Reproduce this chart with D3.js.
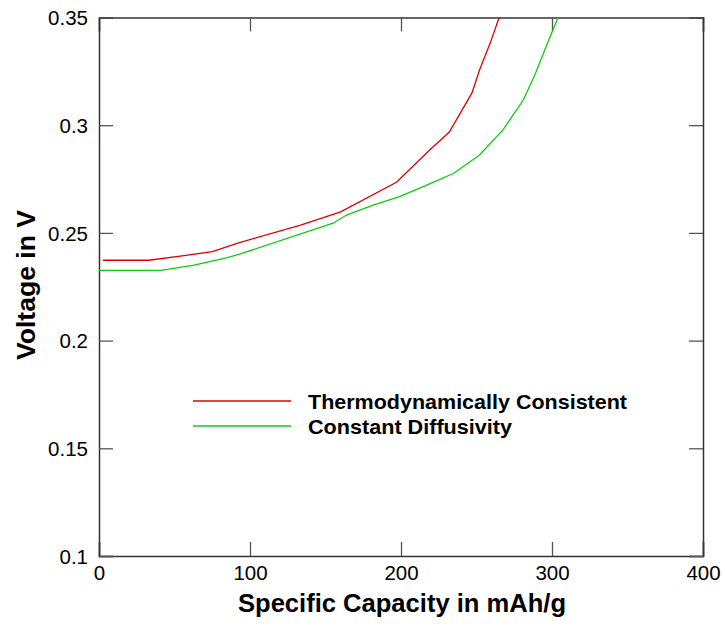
<!DOCTYPE html>
<html><head><meta charset="utf-8">
<script src="https://cdn.jsdelivr.net/npm/d3@7"></script>
<style>body{margin:0;background:#fff}svg{display:block}text{font-family:"Liberation Sans",Arial,sans-serif}</style>
</head><body><svg id="c" width="725" height="627"></svg>
<script>
const xTicks=[0,100,200,300,400];
const yTicks=[0.1,0.15,0.2,0.25,0.3,0.35];
const seriesNames=["Thermodynamically Consistent","Constant Diffusivity"];
const seriesColors=["#e00000","#10cc10"];
const redCap=[2.6,33,55,75,93,133,160,197,219,232,247,252,259,265,270];
const redV=[0.2373,0.2373,0.2393,0.2413,0.2455,0.2535,0.2598,0.2735,0.2885,0.2968,0.315,0.3256,0.338,0.35,0.36];
const greenCap=[0,41,63,85,93,155,164,182,199,217,235,252,267.5,281,289,297,304,310];
const greenV=[0.2326,0.2326,0.235,0.2385,0.2401,0.2545,0.2583,0.263,0.2668,0.2722,0.2777,0.2862,0.2978,0.3117,0.324,0.338,0.35,0.36];

const svg=d3.select("#c");
const m={l:99,t:17.5,r:703,b:556};
const x=d3.scaleLinear().domain([0,400]).range([m.l,m.r]);
const y=d3.scaleLinear().domain([0.1,0.35]).range([m.b,m.t]);
const tl=14;
svg.append("defs").append("clipPath").attr("id","clip").append("rect")
 .attr("x",m.l).attr("y",m.t).attr("width",m.r-m.l).attr("height",m.b-m.t);

const fmt=d=>d===0.35?"0.35":d===0.15?"0.15":d===0.25?"0.25":String(d);
const gx=svg.append("g").attr("transform",`translate(0,${m.b})`)
 .call(d3.axisBottom(x).tickValues(xTicks).tickSize(-tl).tickPadding(9).tickFormat(d3.format("d")));
const gxt=svg.append("g").attr("transform",`translate(0,${m.t})`)
 .call(d3.axisTop(x).tickValues(xTicks).tickSize(-tl).tickFormat(""));
const gy=svg.append("g").attr("transform",`translate(${m.l},0)`)
 .call(d3.axisLeft(y).tickValues(yTicks).tickSize(-tl).tickPadding(11).tickFormat(fmt));
const gyr=svg.append("g").attr("transform",`translate(${m.r},0)`)
 .call(d3.axisRight(y).tickValues(yTicks).tickSize(-tl).tickFormat(""));
[gx,gxt,gy,gyr].forEach(g=>{
 g.select(".domain").attr("stroke","#333").attr("stroke-width",1.5);
 g.selectAll(".tick line").attr("stroke","#555").attr("stroke-width",1.3);
 g.selectAll("text").attr("font-size",20.5).attr("fill","#000").style("font-family","'Liberation Sans',Arial,sans-serif");
});
gx.selectAll(".tick text").attr("dy","0.72em");
gy.selectAll(".tick text").attr("dy","0.35em");

const line=d3.line().x(d=>x(d[0])).y(d=>y(d[1]));
const series=[d3.zip(redCap,redV),d3.zip(greenCap,greenV)];
series.forEach((s,i)=>{
 svg.append("path").attr("clip-path","url(#clip)").datum(s).attr("d",line)
  .attr("fill","none").attr("stroke",seriesColors[i]).attr("stroke-width",1.3);
});
const legW=[319,204];
seriesNames.forEach((n,i)=>{
 const yy=401+i*25;
 svg.append("line").attr("x1",193).attr("x2",291).attr("y1",yy).attr("y2",yy)
  .attr("stroke",seriesColors[i]).attr("stroke-width",1.3);
 svg.append("text").attr("x",308).attr("y",yy+7.5).attr("font-size",21).attr("font-weight","bold")
  .attr("textLength",legW[i]).attr("lengthAdjust","spacingAndGlyphs").text(n);
});
svg.append("text").attr("x",238).attr("y",612)
 .attr("font-size",25).attr("font-weight","bold").attr("textLength",328).attr("lengthAdjust","spacingAndGlyphs")
 .text("Specific Capacity in mAh/g");
svg.append("text").attr("transform","translate(35,360) rotate(-90)")
 .attr("font-size",25).attr("font-weight","bold").attr("textLength",150).attr("lengthAdjust","spacingAndGlyphs")
 .text("Voltage in V");
</script></body></html>
